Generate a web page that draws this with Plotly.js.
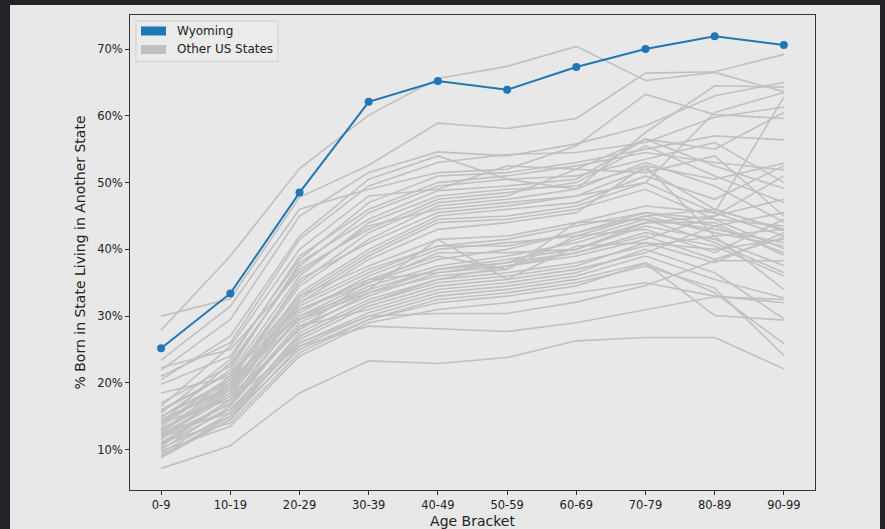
<!DOCTYPE html>
<html>
<head>
<meta charset="utf-8">
<script src="https://cdn.plot.ly/plotly-3.0.1.min.js"></script>
<style>
  html, body { margin: 0; padding: 0; background: #222327; width: 885px; height: 529px; overflow: hidden; }
  #chart { position: absolute; left: 10px; top: 5px; width: 870px; height: 524px; }
</style>
</head>
<body>
<div id="chart"></div>
<script>
// ---- data ----
const ageBrackets = ["0-9","10-19","20-29","30-39","40-49","50-59","60-69","70-79","80-89","90-99"];
const yTickValues = [10, 20, 30, 40, 50, 60, 70];
const yTickLabels = ["10%","20%","30%","40%","50%","60%","70%"];
const legendLabels = ["Wyoming", "Other US States"];

const wyomingValues = [25.2, 33.4, 48.5, 62.1, 65.2, 63.9, 67.3, 70.0, 71.9, 70.6];

const otherStatesValues = [
  [27.9, 39.0, 52.1, 60.1, 65.6, 67.4, 70.4, 65.3, 66.5, 63.6],
  [30.0, 32.6, 47.8, 52.6, 58.9, 58.1, 59.6, 66.4, 66.6, 69.2],
  [23.4, 31.5, 46.0, 49.0, 51.5, 52.0, 55.5, 63.2, 60.2, 59.6],
  [21.9, 29.5, 45.0, 51.5, 54.6, 54.0, 55.8, 58.5, 63.0, 65.0],
  [20.5, 27.0, 42.0, 50.5, 54.0, 50.5, 49.0, 57.5, 64.5, 64.3],
  [21.0, 26.0, 41.5, 49.5, 53.0, 54.2, 54.5, 56.0, 59.8, 61.3],
  [16.5, 25.5, 40.0, 48.0, 49.0, 52.5, 52.0, 56.5, 55.0, 60.5],
  [19.8, 24.0, 38.5, 47.0, 51.0, 51.5, 53.0, 55.0, 57.0, 56.4],
  [15.5, 23.5, 39.0, 46.0, 50.0, 51.0, 52.5, 54.5, 53.0, 51.9],
  [17.0, 22.5, 37.5, 45.5, 49.5, 50.5, 51.0, 53.5, 56.0, 50.0],
  [14.8, 22.0, 38.0, 44.5, 48.8, 49.5, 50.5, 56.5, 52.5, 49.1],
  [16.0, 21.5, 36.0, 44.0, 48.0, 49.0, 49.5, 52.5, 50.5, 52.9],
  [14.0, 23.0, 37.0, 43.0, 47.5, 48.5, 50.0, 55.5, 51.0, 47.0],
  [18.5, 21.0, 35.0, 42.5, 47.0, 48.0, 52.0, 51.5, 54.0, 45.0],
  [13.5, 20.5, 34.5, 41.5, 46.5, 47.5, 49.0, 53.0, 49.5, 44.1],
  [15.0, 20.0, 35.5, 41.0, 45.5, 46.5, 48.0, 52.0, 46.0, 43.0],
  [12.5, 19.5, 33.5, 40.0, 45.0, 46.0, 47.0, 51.0, 47.5, 52.5],
  [14.5, 19.0, 33.0, 39.5, 44.5, 45.0, 46.5, 50.0, 45.5, 62.8],
  [13.0, 18.5, 32.5, 39.0, 44.0, 44.5, 46.0, 49.0, 44.5, 40.1],
  [12.0, 18.0, 32.0, 38.5, 43.0, 44.0, 45.5, 52.5, 42.0, 34.0],
  [22.3, 25.0, 36.5, 43.5, 46.0, 47.0, 48.0, 50.0, 60.5, 63.5],
  [13.8, 21.0, 33.0, 37.5, 41.5, 42.0, 44.0, 46.5, 45.5, 42.0],
  [12.8, 20.0, 31.5, 36.5, 40.5, 41.5, 43.5, 45.5, 44.5, 43.5],
  [11.5, 19.0, 30.5, 36.0, 40.0, 41.0, 42.0, 45.0, 46.0, 42.8],
  [15.8, 21.5, 31.0, 35.5, 39.0, 37.0, 44.0, 44.5, 43.0, 41.0],
  [10.5, 17.5, 30.0, 35.0, 38.5, 40.0, 42.5, 45.0, 42.5, 40.5],
  [12.2, 18.5, 29.5, 34.5, 37.5, 39.0, 41.0, 44.0, 44.0, 39.1],
  [11.0, 17.0, 29.0, 34.0, 37.0, 38.5, 40.0, 43.5, 41.5, 37.6],
  [14.2, 19.5, 29.5, 33.5, 37.0, 38.0, 39.5, 42.5, 40.5, 36.0],
  [10.0, 16.5, 28.5, 33.0, 36.5, 37.5, 39.0, 41.5, 45.0, 51.0],
  [13.2, 18.0, 28.0, 33.5, 36.0, 37.0, 42.0, 43.0, 39.5, 44.5],
  [9.5, 15.5, 27.5, 32.5, 35.5, 36.5, 38.0, 40.5, 42.0, 43.0],
  [11.8, 16.0, 27.0, 32.0, 35.0, 36.0, 37.5, 41.0, 38.0, 42.5],
  [9.0, 15.0, 26.5, 31.5, 34.5, 35.5, 37.0, 39.5, 43.5, 45.5],
  [12.0, 16.8, 28.5, 31.0, 34.0, 35.0, 36.5, 40.0, 36.5, 29.6],
  [10.8, 16.0, 26.0, 30.5, 33.5, 34.5, 36.0, 39.0, 35.5, 32.7],
  [8.8, 14.5, 25.5, 30.0, 33.0, 34.0, 35.5, 38.0, 33.5, 25.9],
  [10.2, 15.0, 25.0, 29.5, 32.5, 33.5, 35.0, 37.5, 34.2, 24.1],
  [11.2, 14.0, 24.5, 29.5, 32.0, 33.0, 34.5, 37.9, 30.1, 29.4],
  [9.8, 13.5, 24.0, 29.0, 31.0, 32.0, 33.5, 35.0, 33.0, 32.0],
  [12.5, 15.5, 26.0, 30.0, 30.4, 30.4, 32.1, 34.6, 38.3, 38.3],
  [15.0, 20.5, 30.0, 34.0, 41.5, 35.5, 40.5, 41.0, 40.0, 41.5],
  [13.0, 19.0, 31.0, 35.0, 39.5, 39.5, 40.0, 44.0, 45.0, 47.5],
  [11.0, 17.5, 28.0, 35.5, 36.5, 38.0, 41.5, 44.5, 41.0, 36.5],
  [9.2, 14.5, 27.0, 32.0, 35.5, 37.5, 39.5, 42.0, 38.5, 41.8],
  [14.5, 19.5, 32.0, 37.0, 40.5, 40.5, 42.5, 45.5, 43.5, 39.5],
  [14.0, 17.5, 25.5, 28.5, 28.1, 27.7, 29.0, 30.9, 32.9, 32.5],
  [7.2, 10.6, 18.5, 23.3, 22.9, 23.8, 26.3, 26.8, 26.8, 22.1]
];

// ---- styles ----
const BLUE = "#1f77b4";
const GREY = "#c0c0c0";
const BG = "#e8e8e8";
const FONT = "DejaVu Sans, sans-serif";
const TXT = "#222222";

const traces = [];
otherStatesValues.forEach(function (vals) {
  traces.push({
    type: "scatter", mode: "lines",
    x: ageBrackets, y: vals,
    line: { color: GREY, width: 1.6 },
    showlegend: false, hoverinfo: "skip"
  });
});
traces.push({
  type: "scatter", mode: "lines+markers",
  x: ageBrackets, y: wyomingValues,
  line: { color: BLUE, width: 2 },
  marker: { color: BLUE, size: 8 },
  showlegend: false
});

// manual legend (matplotlib-style patches), positioned in plot pixels
const plotL = 130, plotT = 15, plotW = 685, plotH = 475;
function px(x) { return (x - plotL) / plotW; }
function py(y) { return 1 - (y - plotT) / plotH; }

const shapes = [
  { type: "rect", xref: "paper", yref: "paper",
    x0: px(136), x1: px(278), y0: py(61.5), y1: py(21),
    fillcolor: "#ebebeb", line: { color: "#cfcfcf", width: 1 } },
  { type: "rect", xref: "paper", yref: "paper",
    x0: px(141), x1: px(166), y0: py(35.5), y1: py(26.5),
    fillcolor: BLUE, line: { width: 0 } },
  { type: "rect", xref: "paper", yref: "paper",
    x0: px(141), x1: px(166), y0: py(54), y1: py(45),
    fillcolor: GREY, line: { width: 0 } }
];
const annotations = [
  { xref: "paper", yref: "paper", x: px(175), y: py(31), text: legendLabels[0],
    showarrow: false, xanchor: "left", yanchor: "middle",
    font: { family: FONT, size: 12, color: TXT } },
  { xref: "paper", yref: "paper", x: px(175), y: py(49.5), text: legendLabels[1],
    showarrow: false, xanchor: "left", yanchor: "middle",
    font: { family: FONT, size: 12, color: TXT } }
];

const layout = {
  width: 870, height: 524,
  margin: { l: 120, r: 65, t: 10, b: 39, pad: 0 },
  paper_bgcolor: BG, plot_bgcolor: BG,
  font: { family: FONT, color: TXT, size: 11.5 },
  showlegend: false,
  xaxis: {
    type: "category", range: [-0.45, 9.45],
    showgrid: false, zeroline: false,
    showline: true, mirror: true, linecolor: "#333333", linewidth: 1,
    ticks: "outside", ticklen: 4, tickcolor: "#333333", tickwidth: 1,
    tickfont: { family: FONT, size: 11.5, color: TXT },
    title: { text: "Age Bracket", font: { family: FONT, size: 14, color: TXT }, standoff: 6 },
    automargin: false
  },
  yaxis: {
    range: [3.96, 75.1],
    tickvals: yTickValues, ticktext: yTickLabels,
    showgrid: false, zeroline: false,
    showline: true, mirror: true, linecolor: "#333333", linewidth: 1,
    ticks: "outside", ticklen: 4, tickcolor: "#333333", tickwidth: 1,
    tickfont: { family: FONT, size: 11.5, color: TXT },
    title: { text: "% Born in State Living in Another State", font: { family: FONT, size: 14, color: TXT }, standoff: 8 },
    automargin: false
  },
  shapes: shapes,
  annotations: annotations
};

Plotly.newPlot("chart", traces, layout, { displayModeBar: false, staticPlot: true });
</script>
</body>
</html>
